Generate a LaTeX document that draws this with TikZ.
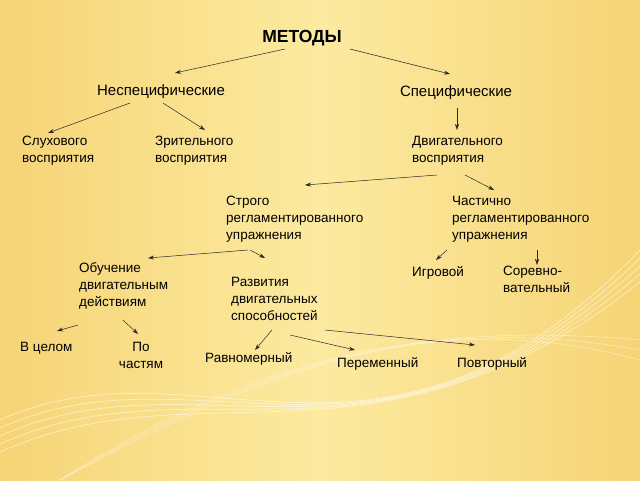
\documentclass[tikz,border=0pt]{standalone}
\usepackage{fontspec}
\setmainfont{Liberation Sans}
\usetikzlibrary{arrows.meta}
\definecolor{bgside}{RGB}{246,212,118}
\definecolor{bgmid}{RGB}{252,234,160}
\tikzset{
  item/.style={anchor=north west, align=left, inner sep=0pt, font=\fontsize{13.5}{17}\selectfont},
  head/.style={anchor=center, inner sep=1pt, font=\fontsize{15}{17}\selectfont},
  link/.style={-{Stealth[length=6pt,width=4pt]}, line width=0.5pt, black!85}
}
\begin{document}
\begin{tikzpicture}[x=1pt,y=-1pt]
  % background
  \shade[left color=bgside, right color=bgside, middle color=bgmid]
    (0,0) rectangle (640,480);
  \useasboundingbox (0,0) rectangle (640,480);
  \foreach \d in {0,8,16,24,32}
    \draw[white, opacity=0.5, line width=0.8pt]
      (0,420+\d) .. controls (200,330+\d) and (380,520-\d) .. (640,250+\d);
  \foreach \d in {0,10,20}
    \draw[white, opacity=0.4, line width=0.7pt]
      (60,480) .. controls (250,380-\d) and (420,300+\d) .. (640,360-\d);

  \node[head, font=\fontsize{17.5}{20}\selectfont\bfseries] (metody) at (302,38) {МЕТОДЫ};
  \node[head] (nespec) at (161,92) {Неспецифические};
  \node[head] (spec) at (456,93) {Специфические};

  \node[item] (sluh) at (22,136) {Слухового\\восприятия};
  \node[item] (zrit) at (155,136) {Зрительного\\восприятия};
  \node[item] (dvig) at (412,136) {Двигательного\\восприятия};

  \node[item] (strogo) at (226,196) {Строго\\регламентированного\\упражнения};
  \node[item] (chast) at (452,196) {Частично\\регламентированного\\упражнения};

  \node[item] (obuch) at (79,262) {Обучение\\двигательным\\действиям};
  \node[item] (razv) at (231,277) {Развития\\двигательных\\способностей};
  \node[item] (igr) at (412,266) {Игровой};
  \node[item] (sorev) at (503,266) {Соревно-\\вательный};

  \node[item] (celom) at (20,342) {В целом};
  \node[item, align=center, anchor=north] (chasti) at (141,342) {По\\частям};
  \node[item] (ravn) at (205,352) {Равномерный};
  \node[item] (perem) at (337,357) {Переменный};
  \node[item] (povt) at (457,357) {Повторный};

  \draw[link] ([shift={(-17pt,-11pt)}]metody.center) -- ([shift={(14pt,19pt)}]nespec.center);
  \draw[link] ([shift={(48pt,-11pt)}]metody.center) -- ([shift={(-6pt,19pt)}]spec.center);
  \draw[link] ([shift={(-31pt,-11pt)}]nespec.center) -- ([shift={(26pt,3pt)}]sluh.north west);
  \draw[link] ([shift={(2pt,-11pt)}]nespec.center) -- ([shift={(50pt,6pt)}]zrit.north west);
  \draw[link] ([shift={(1pt,-15pt)}]spec.center) -- ([shift={(45pt,6pt)}]dvig.north west);
  \draw[link] ([shift={(25pt,-39pt)}]dvig.north west) -- ([shift={(79pt,11pt)}]strogo.north west);
  \draw[link] ([shift={(53pt,-39pt)}]dvig.north west) -- ([shift={(42pt,6pt)}]chast.north west);
  \draw[link] ([shift={(22pt,-54pt)}]strogo.north west) -- ([shift={(69pt,4pt)}]obuch.north west);
  \draw[link] ([shift={(24pt,-54pt)}]strogo.north west) -- ([shift={(34pt,19pt)}]razv.north west);
  \draw[link] ([shift={(-5pt,-54pt)}]chast.north west) -- ([shift={(24pt,6pt)}]igr.north west);
  \draw[link] ([shift={(85pt,-54pt)}]chast.north west) -- ([shift={(34pt,1pt)}]sorev.north west);
  \draw[link] ([shift={(-1pt,-63pt)}]obuch.north west) -- ([shift={(37pt,11pt)}]celom.north west);
  \draw[link] ([shift={(44pt,-58pt)}]obuch.north west) -- ([shift={(-3pt,8pt)}]chasti.north);
  \draw[link] ([shift={(41pt,-53pt)}]razv.north west) -- ([shift={(50pt,2pt)}]ravn.north west);
  \draw[link] ([shift={(59pt,-58pt)}]razv.north west) -- ([shift={(18pt,7pt)}]perem.north west);
  \draw[link] ([shift={(94pt,-53pt)}]razv.north west) -- ([shift={(18pt,12pt)}]povt.north west);
\end{tikzpicture}
\end{document}
